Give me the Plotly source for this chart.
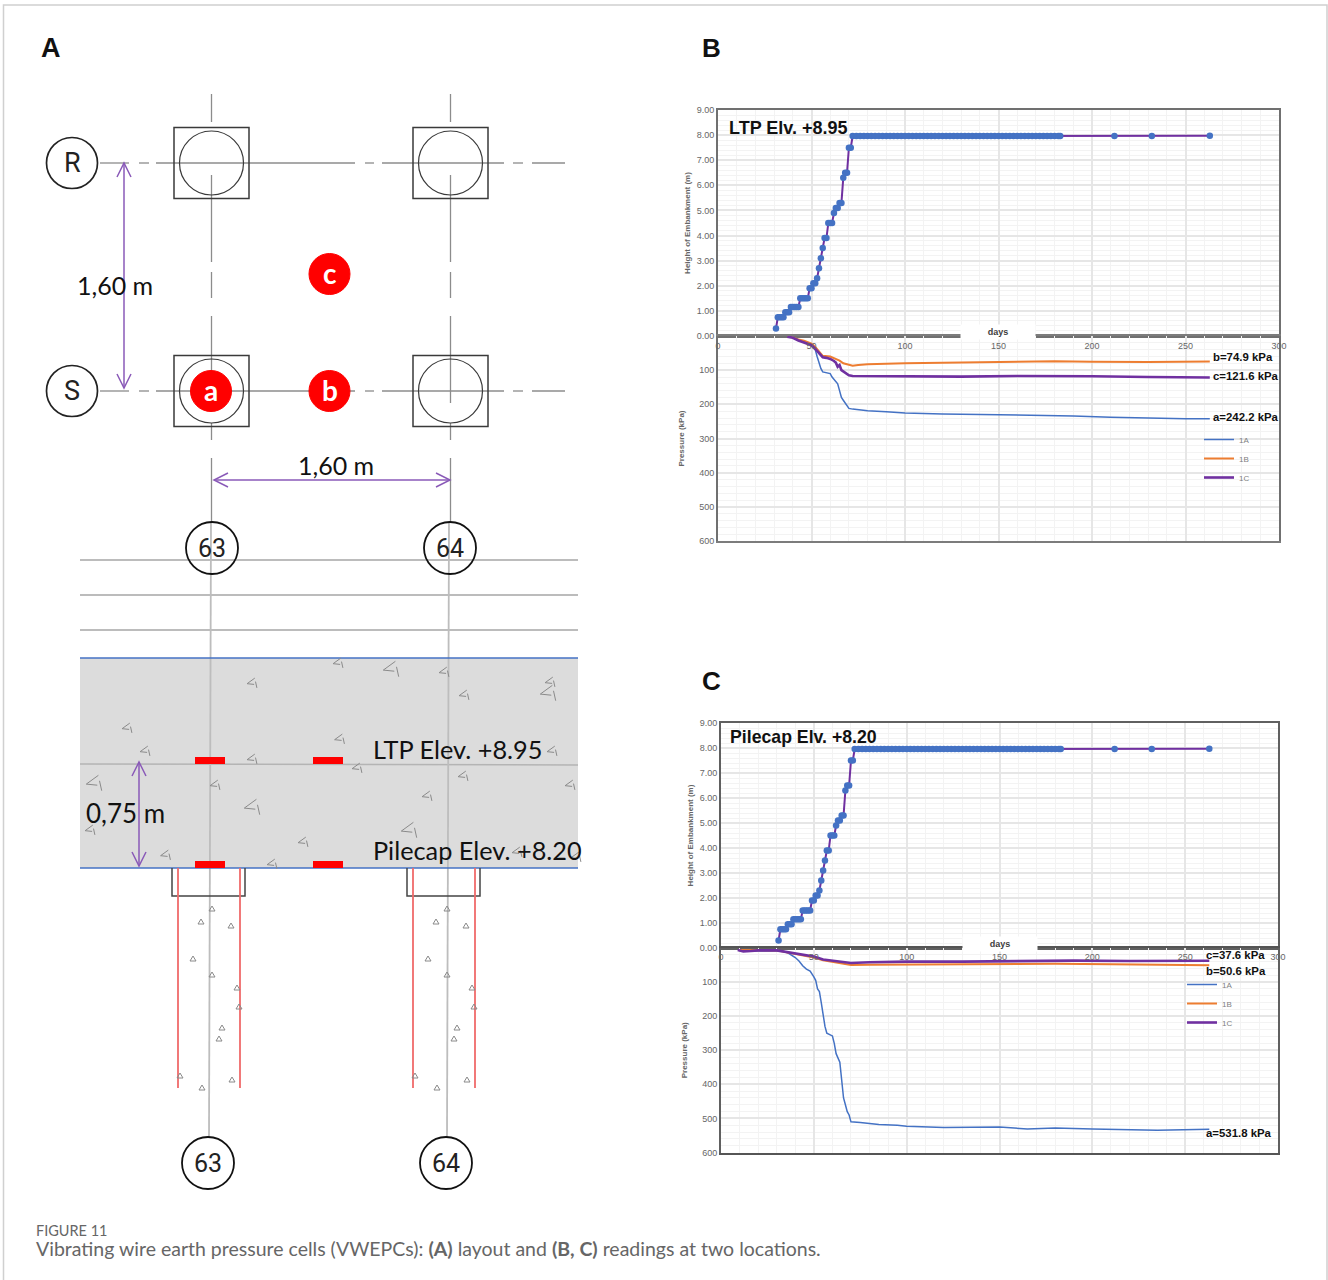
import plotly.graph_objects as go

# ---------- chart data ----------
fill_days = [31, 32, 33, 34, 35, 36, 37, 38, 39, 40, 41, 42, 43, 44, 45, 46, 47, 48, 49, 50, 51, 52, 53, 54, 55, 56, 57, 58, 59, 60, 61, 62, 63, 64, 65, 66, 67, 68, 69, 70, 71,
             72, 74, 76, 78, 80, 82, 84, 86, 88, 90, 92, 94, 96, 98, 100, 102, 104, 106, 108, 110, 112, 114, 116, 118, 120, 122, 124, 126, 128, 130, 132, 134, 136, 138, 140,
             142, 144, 146, 148, 150, 152, 154, 156, 158, 160, 162, 164, 166, 168, 170, 172, 174, 176, 178, 180, 182, 183, 212, 232, 263]
fill_height = [0.3, 0.75, 0.75, 0.75, 0.75, 0.95, 0.95, 0.95, 1.15, 1.15, 1.15, 1.15, 1.15, 1.5, 1.5, 1.5, 1.5, 1.5, 1.9, 1.9, 2.1, 2.1, 2.3, 2.7, 3.1, 3.5, 3.9, 3.9, 4.5, 4.5, 4.5, 4.9, 5.1, 5.1, 5.3, 5.3, 6.3, 6.5, 6.5, 7.5, 7.5] + \
              [7.96] * 57 + [7.96, 7.96, 7.97]

b_1a_d = [38, 40, 42, 45, 48, 50, 52, 53, 54, 55, 56, 58, 60, 61, 63, 64, 65, 66, 67, 69, 70, 72, 75, 80, 90, 100, 120, 150, 170, 190, 210, 230, 250, 263]
b_1a_p = [2, 3, 10, 15, 20, 27, 40, 60, 80, 95, 105, 107, 110, 120, 132, 140, 160, 180, 188, 205, 212, 214, 216, 219, 222, 225, 228, 230, 233, 234, 238, 241, 242, 242.2]
b_1b_d = [37, 40, 43, 46, 50, 52, 54, 56, 60, 63, 65, 67, 70, 72, 75, 80, 100, 120, 150, 180, 200, 230, 263]
b_1b_p = [2, 4, 10, 14, 22, 32, 45, 58, 60, 66, 72, 80, 85, 87, 85, 83, 80, 78, 76, 74, 75, 76, 74.9]
b_1c_d = [37, 40, 43, 46, 50, 52, 54, 56, 58, 60, 62, 63, 64, 65, 66, 68, 70, 72, 100, 130, 160, 180, 200, 230, 263]
b_1c_p = [2, 5, 13, 19, 27, 38, 50, 62, 64, 67, 73, 78, 90, 85, 100, 108, 115, 117, 118, 119, 117, 117, 118, 120, 121.6]

c_1a_d = [10, 15, 30, 33, 36, 38, 40, 42, 44, 46, 48, 50, 51, 52, 53, 54, 55, 56, 57, 60, 61, 62, 64, 65, 66, 67, 68, 69, 70, 75, 85, 95, 100, 120, 135, 150, 165, 180, 200, 235, 263]
c_1a_p = [8, 8, 7, 9, 14, 20, 28, 38, 52, 62, 68, 85, 95, 120, 128, 160, 200, 230, 250, 258, 280, 310, 335, 385, 440, 460, 480, 490, 510, 512, 518, 520, 523, 527, 526, 525, 531, 528, 531, 535, 531.8]
c_1b_d = [10, 30, 36, 45, 50, 55, 60, 65, 70, 80, 100, 130, 150, 180, 210, 240, 263]
c_1b_p = [6, 7, 13, 22, 28, 36, 40, 46, 50, 49, 48, 48, 47, 46, 48, 50, 50.6]
c_1c_d = [9, 12, 16, 20, 30, 35, 45, 50, 55, 60, 65, 70, 80, 100, 130, 160, 190, 220, 263]
c_1c_p = [6, 10, 9, 7, 7, 12, 20, 25, 34, 37, 42, 44, 42, 40, 40, 38, 37, 38, 37.6]

series_names = ["1A", "1B", "1C"]
b_labels = ["b=74.9 kPa", "c=121.6 kPa", "a=242.2 kPa"]
b_label_kpa = [61, 117, 237]
c_labels = ["c=37.6 kPa", "b=50.6 kPa", "a=531.8 kPa"]
c_label_kpa = [21, 67, 544]

# ---------- diagram geometry (panel A, page pixels) ----------
col_x = [211.5, 450.5]
row_y = [163, 391]
row_names = ["R", "S"]
h_segments = [(100, 129), (139, 149), (156, 355), (365, 374), (382, 504), (513, 523), (532, 565)]
v_segments = [(94, 122), (175, 262), (272, 298), (316, 403), (423, 440), (458, 523)]
bar_y = [560, 595, 630]
red_bars = [(195, 225, 757, 764), (313, 343, 757, 764), (195, 225, 861, 868), (313, 343, 861, 868)]
sensors = [(211, 391, "a"), (329.5, 391, "b"), (329.5, 274, "c")]
gravel = [(338, 663, .7), (391, 669, 1.1), (444, 672, .7), (550, 682, .7), (548, 693, 1.1), (464, 695, .7), (252, 683, .7),
          (127, 728, .7), (145, 751, .7), (339.5, 739, .7), (252, 759, .7), (357, 768, .7), (552, 751, .7), (463, 776, .7),
          (570, 785, .7), (94, 783, 1.1), (215, 785, .7), (252, 807, 1.1), (427, 796, .7), (90, 830, .7), (409, 830, 1.1),
          (303, 842, .7), (165.5, 855, .7), (272, 864, .7), (517, 852, .7), (576, 857, .7)]
pile_stones = [(212, 909), (201, 922), (231, 926), (193, 959), (212, 975), (237, 988), (239, 1007), (222, 1028), (219, 1039),
               (180, 1076), (232, 1080), (202, 1088)]

W, H = 1328, 1280
BLUE, ORANGE, PURPLE = "#4472c4", "#ed7d31", "#7030a0"
GRAY_TXT = "#666666"
SANS = "Liberation Sans"
NARROW = "Roboto"
HAND = "Lato"


def fx(p):
    return p / W


def fy(p):
    return 1 - p / H


fig = go.Figure()


def line(x0, y0, x1, y1, color="#888888", width=1.5):
    fig.add_shape(type="line", x0=x0, y0=y0, x1=x1, y1=y1, xref="x5", yref="y5", layer="below",
                  line=dict(color=color, width=width))


def rect(x0, y0, x1, y1, fill=None, color=None, width=1.5):
    fig.add_shape(type="rect", x0=x0, y0=y0, x1=x1, y1=y1, xref="x5", yref="y5", layer="below",
                  fillcolor=fill if fill else "rgba(0,0,0,0)", line=dict(color=color if color else "rgba(0,0,0,0)", width=width))


def circle(cx, cy, r, color="#333333", width=1.5, fill=None):
    fig.add_shape(type="circle", x0=cx - r, y0=cy - r, x1=cx + r, y1=cy + r, xref="x5", yref="y5", layer="below",
                  fillcolor=fill if fill else "rgba(255,255,255,0)", line=dict(color=color, width=width))


def text(x, y, s, size, font=HAND, color="#111111", anchor="center"):
    fig.add_annotation(x=x, y=y, xref="x5", yref="y5", text=s, showarrow=False, xanchor=anchor, yanchor="middle",
                       font=dict(size=size, family=font, color=color))


def arrow(x0, y0, x1, y1):
    c, w = "#8a5ab8", 1.5
    line(x0, y0, x1, y1, c, w)
    if x0 == x1:
        for y, s in ((y0, 1), (y1, -1)):
            fig.add_shape(type="path", path=f"M {x0-7} {y+s*14} L {x0} {y} L {x0+7} {y+s*14}", xref="x5", yref="y5",
                          layer="below", line=dict(color=c, width=w))
    else:
        for x, s in ((x0, 1), (x1, -1)):
            fig.add_shape(type="path", path=f"M {x+s*14} {y0-7} L {x} {y0} L {x+s*14} {y0+7}", xref="x5", yref="y5",
                          layer="below", line=dict(color=c, width=w))


# page frame
fig.add_shape(type="rect", x0=3.5, y0=5, x1=1327, y1=1300, xref="x5", yref="y5", layer="below",
              line=dict(color="#d0d0d0", width=1.5))

# plan view
for y in row_y:
    for a, b in h_segments:
        line(a, y, b, y, "#8c8c8c", 1.3)
for x in col_x:
    for a, b in v_segments:
        line(x, a, x, b, "#8c8c8c", 1.3)
    for y in row_y:
        rect(x - 37.5, y - 35.5, x + 37.5, y + 35.5, color="#3a3a3a", width=1.5)
        circle(x, y, 32, "#3a3a3a", 1.2)
for y, name in zip(row_y, row_names):
    circle(72, y, 25.5, "#222222", 1.7)
    text(72, y, name, 27, NARROW, "#222222")
for cx, cy, s in sensors:
    circle(cx, cy, 20.5, "#ff0000", 1, "#ff0000")
    text(cx, cy - 1, f"<b>{s}</b>", 28, HAND, "#ffffff")
arrow(124, 163, 124, 388)
arrow(214, 480, 450, 480)
text(115, 285, "1,60 m", 25)
text(336, 465, "1,60 m", 25)

# section view
for y in bar_y:
    line(80, y, 578, y, "#a6a6a6", 1.5)
rect(80, 658, 578, 868, fill="#dcdcdc")
line(80, 764, 578, 765, "#b4b4b4", 1.5)
line(211, 523, 209, 1137, "#bdbdbd", 1.8)
line(449, 523, 447, 1137, "#bdbdbd", 1.8)
line(80, 658, 578, 658, BLUE, 1.5)
line(80, 868, 578, 868, BLUE, 1.5)
for x0, x1, y0, y1 in red_bars:
    rect(x0, y0, x1, y1, fill="#ff0000")
for x in (172, 407):
    fig.add_shape(type="path", path=f"M {x} 868 L {x} 896 L {x+73} 896 L {x+73} 868", xref="x5", yref="y5", layer="below",
                  line=dict(color="#444444", width=1.5))
    line(x + 6, 868, x + 6, 1088, "#f06a6a", 1.8)
    line(x + 68, 868, x + 68, 1088, "#f06a6a", 1.8)
for i, (bx, by) in enumerate(((212, 548), (450, 548), (208, 1163), (446, 1163))):
    circle(bx, by, 26, "#111111", 1.8, "rgba(255,255,255,0.0)" if by < 600 else "#ffffff")
    text(bx, by, "63" if i % 2 == 0 else "64", 25, NARROW, "#222222")
arrow(139, 762, 139, 866)
text(125, 813, "0,75 m", 26)
text(371, 748.5, "LTP Elev. +8.95", 25.3, anchor="left")
text(371, 849.5, "Pilecap Elev. +8.20", 25.3, anchor="left")

# aggregate marks, drawn through the diagram axes
gx, gy = [], []
for x, y, s in gravel:
    gx += [x + 4 * s, x - 7 * s, x + 3 * s, None, x + 5 * s, x + 7 * s, None]
    gy += [y - 7 * s, y + 1 * s, y + 2 * s, None, y - 2 * s, y + 7 * s, None]
fig.add_trace(go.Scatter(x=gx, y=gy, xaxis="x5", yaxis="y5", mode="lines", line=dict(color="#8a8a8a", width=1),
                         showlegend=False, hoverinfo="skip"))
px_, py_ = [], []
for dx in (0, 235):
    for x, y in pile_stones:
        px_ += [x + dx - 3, x + dx + 3, x + dx, x + dx - 3, None]
        py_ += [y + 2, y + 2, y - 3, y + 2, None]
fig.add_trace(go.Scatter(x=px_, y=py_, xaxis="x5", yaxis="y5", mode="lines", line=dict(color="#8a8a8a", width=1),
                         showlegend=False, hoverinfo="skip"))


# ---------- panels B and C ----------
def add_panel(n, left, right, top, zero, bottom, series, zero_w, zero_c, top_c, legend_id, legend_x, legend_y):
    xu, yu, xl, yl = (f"x{n}", f"y{n}", f"x{n+1}", f"y{n+1}")
    for i, (d, p) in enumerate(series):
        width = [1.5, 2, 2.6][i]
        col = [BLUE, ORANGE, PURPLE][i]
        fig.add_trace(go.Scatter(x=d, y=p, xaxis=xl, yaxis=yl, mode="lines", name=series_names[i],
                                 line=dict(color=col, width=width), legend=legend_id, showlegend=True))
    fig.add_trace(go.Scatter(x=fill_days, y=fill_height, xaxis=xu, yaxis=yu, mode="lines+markers", name="Embankment",
                             line=dict(color=PURPLE, width=2), marker=dict(color=BLUE, size=6.5), showlegend=False))
    xbase = dict(range=[0, 300], dtick=50, tick0=0, gridcolor="#e6e6e6", gridwidth=1.5,
                 minor=dict(dtick=10, showgrid=True, gridcolor="#f3f3f3", gridwidth=1, ticks=""), showline=True,
                 mirror=True, zeroline=False, fixedrange=True,
                 domain=[fx(left), fx(right)], tickfont=dict(size=9, family=SANS, color=GRAY_TXT), ticks="")
    ybase = dict(showline=True, mirror=True, linecolor=top_c, linewidth=2, zeroline=False, fixedrange=True,
                 gridcolor="#e6e6e6", gridwidth=1.5, tickfont=dict(size=9, family=SANS, color=GRAY_TXT), ticks="")
    axis_title = dict(size=8, family=SANS, color=GRAY_TXT)
    fig.update_layout({
        f"xaxis{n}": dict(xbase, anchor=yu, linewidth=2, linecolor=top_c, showticklabels=False),
        f"yaxis{n}": dict(ybase, anchor=xu, domain=[fy(zero), fy(top)], range=[0, 9], dtick=1, tickformat=".2f",
                          minor=dict(dtick=0.2, showgrid=True, gridcolor="#f3f3f3", gridwidth=1, ticks=""),
                          title=dict(text="<b>Height of Embankment (m)</b>", font=axis_title, standoff=5)),
        f"xaxis{n+1}": dict(xbase, anchor=yl, side="top", ticklabelposition="inside", ticklabeloverflow="allow",
                            ticklabelstandoff=5, linewidth=zero_w, linecolor=zero_c),
        f"yaxis{n+1}": dict(ybase, anchor=xl, domain=[fy(bottom), fy(zero)], range=[600, 0], dtick=100, labelalias={0: " "},
                            minor=dict(dtick=20, showgrid=True, gridcolor="#f3f3f3", gridwidth=1, ticks=""),
                            title=dict(text="<b>Pressure (kPa)</b>", font=axis_title, standoff=13)),
        legend_id: dict(x=fx(legend_x), y=fy(legend_y), xanchor="left", yanchor="top", bgcolor="rgba(0,0,0,0)",
                        font=dict(size=8, family=SANS, color="#7f7f7f"), itemwidth=30, borderwidth=0,
                        tracegroupgap=0),
    })
    # solid zero line above the grids of both halves
    fig.add_shape(type="line", x0=0, x1=300, y0=0, y1=0, xref=xu, yref=yu, layer="above",
                  line=dict(color=zero_c, width=zero_w))
    fig.add_annotation(x=150, y=0.16, xref=xu, yref=yu, text="<b>days</b>", showarrow=False, bgcolor="#ffffff", width=72, height=12,
                       font=dict(size=9, family=SANS, color="#404040"))


add_panel(1, 718, 1279, 110, 336, 541, [(b_1a_d, b_1a_p), (b_1b_d, b_1b_p), (b_1c_d, b_1c_p)], 2.3, "#7c7c7c", "#707070", "legend", 1199, 425)
add_panel(3, 721, 1278, 723, 948, 1152.5, [(c_1a_d, c_1a_p), (c_1b_d, c_1b_p), (c_1c_d, c_1c_p)], 1.6, "#555555", "#606060", "legend2", 1182, 970)

for lab, kpa in zip(b_labels, b_label_kpa):
    fig.add_annotation(x=263.7, y=kpa, xref="x2", yref="y2", text=f"<b>{lab}</b>", showarrow=False, xanchor="left",
                       font=dict(size=11.4, family=SANS, color="#111111"))
for lab, kpa in zip(c_labels, c_label_kpa):
    fig.add_annotation(x=260, y=kpa, xref="x4", yref="y4", text=f"<b>{lab}</b>", showarrow=False, xanchor="left",
                       font=dict(size=11.4, family=SANS, color="#111111"))
fig.add_annotation(x=5, y=8.28, xref="x1", yref="y1", text="<b>LTP Elv. +8.95</b>", showarrow=False, xanchor="left",
                   font=dict(size=18, family=SANS, color="#111111"))
fig.add_annotation(x=4, y=8.45, xref="x3", yref="y3", text="<b>Pilecap Elv. +8.20</b>", showarrow=False, xanchor="left",
                   font=dict(size=17.7, family=SANS, color="#111111"))

# panel letters and caption
text(39, 48, "<b>A</b>", 27, SANS, "#111111", "left")
text(700, 48, "<b>B</b>", 26, SANS, "#111111", "left")
text(700, 681, "<b>C</b>", 26, SANS, "#111111", "left")
text(34, 1230, "FIGURE 11", 14.5, HAND, "#666666", "left")
text(34, 1248.5, "Vibrating wire earth pressure cells (VWEPCs): <b>(A)</b> layout and <b>(B, C)</b> readings at two locations.",
     19.5, HAND, "#666666", "left")

fig.update_layout(
    width=W, height=H, margin=dict(l=0, r=0, t=0, b=0, autoexpand=False), paper_bgcolor="#ffffff", plot_bgcolor="rgba(0,0,0,0)",
    xaxis5=dict(domain=[0, 1], range=[0, W], visible=False, fixedrange=True, anchor="y5"),
    yaxis5=dict(domain=[0, 1], range=[H, 0], visible=False, fixedrange=True, anchor="x5"),
    hovermode=False,
)
fig.write_html("out.html", config={"displayModeBar": False}, post_script="document.body.style.margin='0';")
